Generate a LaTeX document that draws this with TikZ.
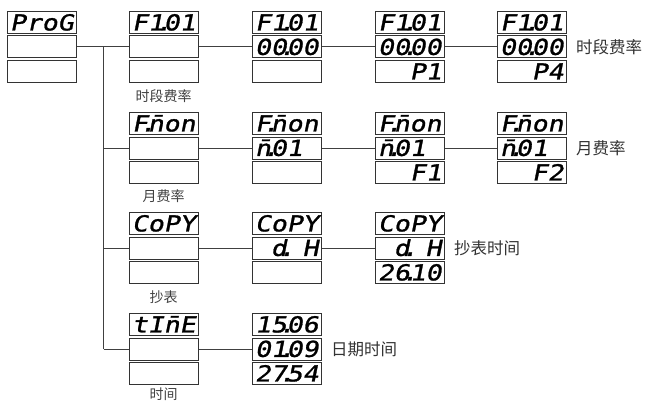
\documentclass[tikz,border=0pt]{standalone}
\usepackage{fontspec}
\newfontfamily\seg{DejaVu Sans Mono}[FakeStretch=1.2,FakeSlant=0.2,FakeBold=1.2]
\newfontfamily\cjk{Noto Sans CJK SC}
\newcommand\segdot{\kern-8pt.\kern-8pt}
\newcommand\segblank{\phantom{0}}
\newcommand\segm{\={n}}
\tikzset{
  disp/.style={draw=black!80, line width=0.8pt, minimum width=69pt, minimum height=22pt,
    inner sep=0pt, anchor=north west, font=\seg\fontsize{22}{22}\selectfont,
    text height=16pt, text depth=0pt, text width=64pt, align=left},
  conn/.style={draw=black!75, line width=0.8pt},
  sublabel/.style={font=\cjk\fontsize{14}{14}\selectfont, text=black!75, inner sep=0pt},
  sidelabel/.style={font=\cjk\fontsize{16.5}{17}\selectfont, text=black!80, inner sep=0pt, anchor=west}
}
\newcommand\dispunit[6]{%
  \node[disp] (#1-t) at (#2,#3) {#4};
  \node[disp] (#1-m) at (#2,#3+24.5) {#5};
  \node[disp] (#1-b) at (#2,#3+49) {#6};
}
\begin{document}
\begin{tikzpicture}[x=1pt,y=-1pt]
\useasboundingbox (0,0) rectangle (650,401);
% column 1
\dispunit{p}{7}{11}{ProG}{}{}
% row 1
\dispunit{a1}{129}{11}{F1\segdot 01}{}{}
\dispunit{b1}{252}{11}{F1\segdot 01}{00\segdot 00}{}
\dispunit{c1}{375}{11}{F1\segdot 01}{00\segdot 00}{\segblank\segblank P1}
\dispunit{d1}{497}{11}{F1\segdot 01}{00\segdot 00}{\segblank\segblank P4}
% row 2
\dispunit{a2}{129}{112}{F\segdot\segm on}{}{}
\dispunit{b2}{252}{112}{F\segdot\segm on}{\segm\segdot 01}{}
\dispunit{c2}{375}{112}{F\segdot\segm on}{\segm\segdot 01}{\segblank\segblank F1}
\dispunit{d2}{497}{112}{F\segdot\segm on}{\segm\segdot 01}{\segblank\segblank F2}
% row 3
\dispunit{a3}{129}{212}{CoPY}{}{}
\dispunit{b3}{252}{212}{CoPY}{\segblank d\segdot\segblank H}{}
\dispunit{c3}{375}{212}{CoPY}{\segblank d\segdot\segblank H}{26\segdot 10}
% row 4
\dispunit{a4}{129}{313}{tI\segm E}{}{}
\dispunit{b4}{252}{313}{15\segdot 06}{01\segdot 09}{27\segdot 54}
% connectors
\coordinate (jx) at (103.5,0);
\draw[conn] (p-m.east) -- (a1-m.west);
\draw[conn] (jx |- a1-m.west) -- (jx |- a4-m.west);
\draw[conn] (jx |- a2-m.west) -- (a2-m.west);
\draw[conn] (jx |- a3-m.west) -- (a3-m.west);
\draw[conn] (jx |- a4-m.west) -- (a4-m.west);
\draw[conn] (a1-m.east) -- (b1-m.west);
\draw[conn] (b1-m.east) -- (c1-m.west);
\draw[conn] (c1-m.east) -- (d1-m.west);
\draw[conn] (a2-m.east) -- (b2-m.west);
\draw[conn] (b2-m.east) -- (c2-m.west);
\draw[conn] (c2-m.east) -- (d2-m.west);
\draw[conn] (a3-m.east) -- (b3-m.west);
\draw[conn] (b3-m.east) -- (c3-m.west);
\draw[conn] (a4-m.east) -- (b4-m.west);
% labels under column 2
\node[sublabel] (s1) at (163.5,96) {时段费率};
\node[sublabel] (s2) at (163.5,196) {月费率};
\node[sublabel] (s3) at (163.5,297) {抄表};
\node[sublabel] (s4) at (163.5,394) {时间};
% side labels
\node[sidelabel] (r1) at ([xshift=9pt]d1-m.east) {时段费率};
\node[sidelabel] (r2) at ([xshift=9pt]d2-m.east) {月费率};
\node[sidelabel] (r3) at ([xshift=9pt]c3-m.east) {抄表时间};
\node[sidelabel] (r4) at ([xshift=9pt]b4-m.east) {日期时间};
\end{tikzpicture}
\end{document}
